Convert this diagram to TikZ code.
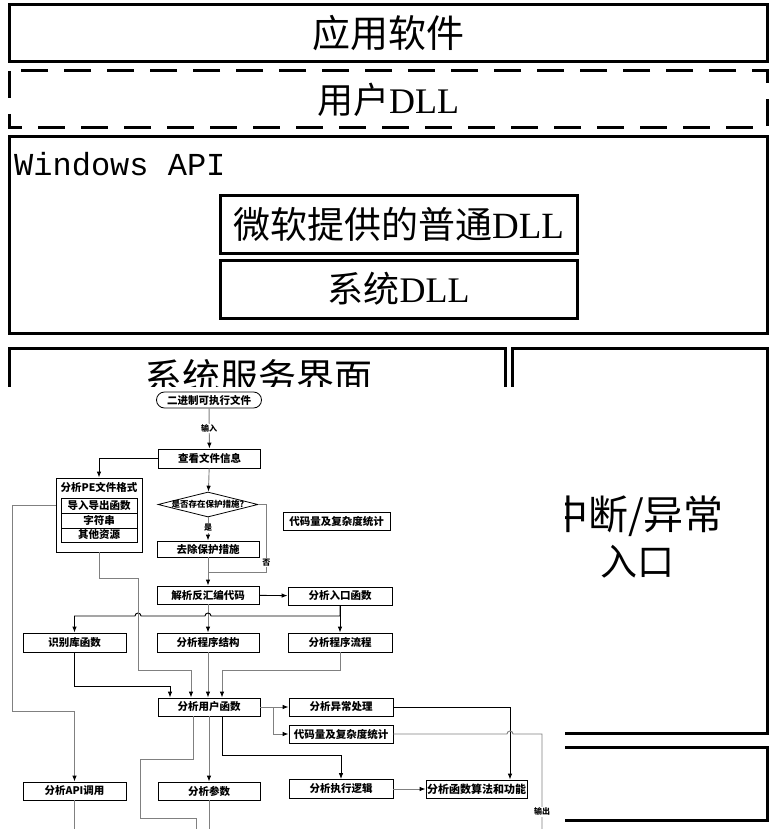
\documentclass[tikz,border=0pt]{standalone}
\usepackage{fontspec}
\setmainfont{Liberation Serif}
\newfontfamily\cjk{Noto Sans CJK SC}
\newfontfamily\mono{Liberation Mono}
\usetikzlibrary{calc}
\usetikzlibrary{shapes.geometric}
\usetikzlibrary{arrows.meta}

\newcommand{\fsz}[1]{\fontsize{#1}{#1}\selectfont}

\begin{document}
\begin{tikzpicture}[x=1pt,y=-1pt,
    layer/.style={draw=black,line width=3pt},
    fbox/.style={draw=black,line width=0.8pt,fill=white,inner sep=0pt,
      minimum width=102pt,minimum height=18pt,font=\cjk\bfseries\fsz{10.5}},
    gline/.style={draw=black!50,line width=0.9pt},
    bline/.style={draw=black,line width=0.9pt},
    lab/.style={fill=white,inner sep=1pt,font=\cjk\bfseries\fsz{8}},
    >={Latex[length=6pt,width=4.5pt,color=black]}]
            \useasboundingbox (0,0) rectangle (778,829);

            % layers
            \draw[layer] (9,5) rectangle (767,62);
            \draw[layer,dash pattern=on 27pt off 16pt] (9,71) rectangle (767,128);
            \draw[layer] (9,137) rectangle (767,333);
            \draw[layer] (220,195) rectangle (577,253);
            \draw[layer] (220,260) rectangle (577,318);
            \draw[layer] (9,348) rectangle (505,733);
            \draw[layer] (512,348) rectangle (767,733);
            \draw[layer] (9,747) rectangle (767,820);

            \node[font=\cjk\fsz{38}] (app) at (388,33) {应用软件};
            \node[font=\fsz{36}] (udll) at (388,100) {{\cjk 用户}DLL};
            \node[font=\mono\fsz{32},anchor=west,inner sep=0pt] (winapi) at (14,164) {Windows API};
            \node[font=\fsz{37}] (msdll) at (398.5,224) {{\cjk 微软提供的普通}DLL};
            \node[font=\fsz{36}] (sysdll) at (398.5,289) {{\cjk 系统}DLL};
            \node[font=\cjk\fsz{38}] (svc) at (258,377) {系统服务界面};
            \node[font=\cjk\fsz{40}] (intr) at (636,516) {中断/异常};
            \node[font=\cjk\fsz{37}] (entrance) at (637,562) {入口};

            % pasted flowchart
            \fill[white] (0,387) rectangle (565,829);

            \node[fbox,rounded corners=8pt,minimum width=105pt,minimum height=16pt] (start) at (209,400) {二进制可执行文件};
            \node[fbox,minimum height=19pt] (look) at (209.5,458.5) {查看文件信息};
            \node[fbox,minimum width=86pt,minimum height=74pt] (pe) at (99,515) {};
            \node[font=\cjk\bfseries\fsz{10.5}] (petitle) at (99,487) {分析{\bfseries PE}文件格式};
            \node[fbox,minimum width=76pt,minimum height=15pt] (r1) at (99,505.5) {导入导出函数};
            \node[fbox,minimum width=76pt,minimum height=15pt] (r2) at (99,520.5) {字符串};
            \node[fbox,minimum width=76pt,minimum height=14pt] (r3) at (99,535) {其他资源};
            \node[diamond,draw=black,line width=0.8pt,fill=white,inner sep=0pt,aspect=4,
              minimum width=100pt,minimum height=25pt] (dia) at (208,504.5) {};
            \node[font=\cjk\bfseries\fsz{8.5}] (diatext) at (dia) {是否存在保护措施?};
            \node[fbox,minimum height=16pt] (remove) at (208,549) {去除保护措施};
            \node[fbox,minimum width=107pt] (stat1) at (336.5,521) {代码量及复杂度统计};
            \node[fbox] (parse) at (208,595) {解析反汇编代码};
            \node[fbox,minimum width=104pt] (entry) at (340,596) {分析入口函数};
            \node[fbox,minimum width=103pt,minimum height=19pt] (lib) at (74.5,642.5) {识别库函数};
            \node[fbox,minimum height=19pt] (struct) at (208,642.5) {分析程序结构};
            \node[fbox,minimum width=104pt,minimum height=19pt] (flow) at (340,642.5) {分析程序流程};
            \node[fbox] (user) at (209,707) {分析用户函数};
            \node[fbox,minimum width=104pt] (exc) at (341,707) {分析异常处理};
            \node[fbox,minimum width=104pt] (stat2) at (341,734) {代码量及复杂度统计};
            \node[fbox,minimum width=103pt] (api) at (74.5,791) {分析{\bfseries API}调用};
            \node[fbox] (param) at (209,791) {分析参数};
            \node[fbox,minimum width=104pt,minimum height=19pt] (logic) at (341,789) {分析执行逻辑};
            \node[fbox,minimum width=101pt,font=\cjk\bfseries\fsz{11}] (algo) at (476.5,789) {分析函数算法和功能};

            \coordinate (j1) at (208,572);
            \coordinate (hy) at (0,616);
            \coordinate (bot) at (0,829);

            \draw[gline,->] (start) -- node[lab]{输入} (look);
            \draw[bline,->] (look.west) -| (pe.north);
            \draw[gline,->] (look) -- (dia);
            \draw[gline,->] (dia) -- node[lab,pos=0.45]{是} (remove);
            \draw[gline] (dia.east) -- ++(8,0) |- node[lab,pos=0.43]{否} (j1);
            \draw[gline] (remove) -- (j1);
            \draw[gline,->] (j1) -- (parse);
            \draw[bline,->] (parse) -- (entry);
            \draw[gline,->] (parse) -- (struct);
            \draw[bline,->] (entry.south) -- (entry.south |- hy) -- (211,616)
              arc[start angle=0,end angle=-180,radius=3] -- (141,616)
              arc[start angle=0,end angle=-180,radius=3] -- (lib.north |- hy) -- (lib.north);
            \draw[bline,->] (entry) -- (flow);
            \draw[gline,->] (pe.south) -- ++(0,26) -| (138,670) -| ($(user.north)+(-18,0)$);
            \draw[gline,->] (pe.west |- r1) -| (12,711) -| (api.north);
            \draw[bline,->] (lib.south) -- ++(0,34) -| ($(user.north)+(-39,0)$);
            \draw[gline,->] (struct) -- (struct.south |- user.north);
            \draw[gline,->] (flow.south) -- ++(0,18) -| ($(user.north)+(13,0)$);
            \draw[gline,->] (user) -- (exc);
            \draw[gline,->] ($(user.east)+(13,0)$) |- (stat2.west);
            \draw[gline] ($(user.south)+(-16,0)$) -- ++(0,43) -| (140,818) -| (196,829);
            \draw[gline,->] (user) -- (param);
            \draw[bline,->] ($(user.south)+(13,0)$) -- ++(0,39) -| (logic.north);
            \draw[bline,->] (exc.east) -| ($(algo.north)+(33.5,0)$);
            \draw[gline] (stat2.east) -- (507,734) arc[start angle=180,end angle=360,radius=3]
              -- (542,734) -- node[lab,pos=0.82]{输出} (542,829);
            \draw[gline,->] (logic) -- (algo);
            \draw[gline] ($(algo.south)+(11.5,0)$) -- (algo.south -| 488,829);
            \draw[gline] (api.south) -- (api.south |- bot);
            \draw[gline] (param.south) -- (param.south |- bot);

        \end{tikzpicture}
\end{document}
